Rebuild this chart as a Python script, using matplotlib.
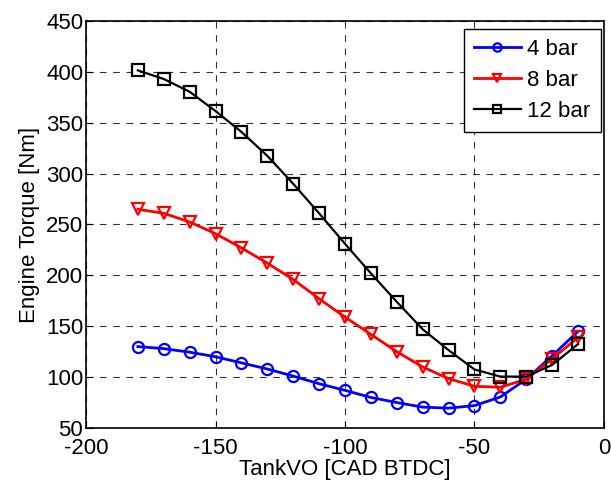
import matplotlib
matplotlib.use('Agg')
import matplotlib.pyplot as plt

plt.rcParams['font.family'] = ['Liberation Sans', 'DejaVu Sans']
plt.rcParams['axes.unicode_minus'] = False

# TankVO timing [CAD BTDC]
tankvo = [-180, -170, -160, -150, -140, -130, -120, -110, -100,
          -90, -80, -70, -60, -50, -40, -30, -20, -10]

# engine torque [Nm] per boost pressure
torque_4bar = [130, 128, 124.5, 120, 114, 108, 101, 93.5, 87,
               80, 75, 70.5, 69.5, 72, 80.5, 98, 121, 145]
torque_8bar = [265, 261, 252.5, 241, 227, 212, 196, 177, 159,
               142, 125, 110, 98.5, 91, 90, 98, 118, 139]
torque_12bar = [401.5, 393, 380.5, 361.5, 341, 317.5, 290, 261, 231,
                202, 174, 147, 126.5, 107.5, 100.5, 100.5, 112, 132.5]

fig = plt.figure(figsize=(6.11, 4.83), dpi=100)
ax = fig.add_axes([0.1408, 0.1139, 0.8477, 0.8426])

ax.plot(tankvo, torque_4bar, '-o', color='blue', lw=2, ms=8, mfc='none', mew=1.6, label='4 bar')
ax.plot(tankvo, torque_8bar, '-v', color='red', lw=2, ms=8, mfc='none', mew=1.6, label='8 bar')
ax.plot(tankvo, torque_12bar, '-s', color='black', lw=1.6, ms=8, mfc='none', mew=1.6, label='12 bar')

ax.set_xlim(-200, 0)
ax.set_ylim(50, 450)
ax.set_xticks(range(-200, 1, 50))
ax.set_yticks(range(50, 451, 50))
ax.tick_params(direction='in', labelsize=16, length=5)
ax.tick_params(axis='x', pad=7)
ax.tick_params(axis='y', pad=2)
ax.grid(True, color='black', linestyle=(0, (6, 6)), linewidth=0.8, alpha=0.8)
for s in ax.spines.values():
    s.set_linewidth(1.2)

ax.set_xlabel('TankVO [CAD BTDC]', fontsize=16, labelpad=0)
ax.set_ylabel('Engine Torque [Nm]', fontsize=16, labelpad=4)

leg = ax.legend(loc='upper right', bbox_to_anchor=(0.9936, 0.980), borderaxespad=0,
                fontsize=16, fancybox=False, framealpha=1, edgecolor='black',
                handlelength=2.1, labelspacing=0.45, handletextpad=0.3,
                borderpad=0.45)
leg.get_frame().set_linewidth(1.0)
for line in leg.get_lines():
    line.set_markersize(6)

fig.savefig('out.png', dpi=100)
